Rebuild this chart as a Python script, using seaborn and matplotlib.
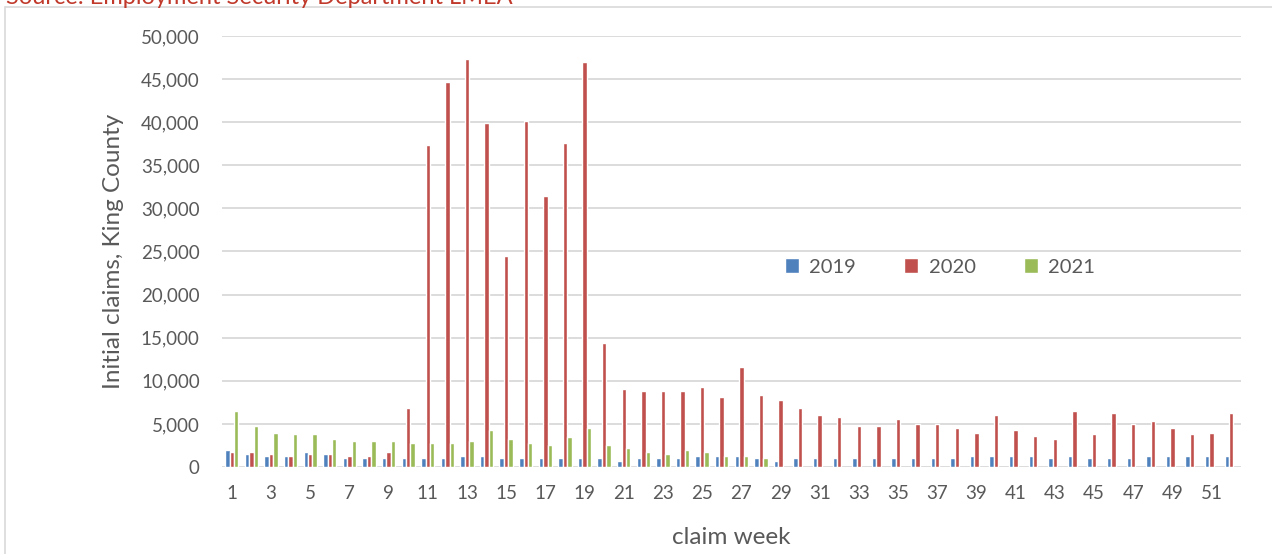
import numpy as np
import pandas as pd
import matplotlib
matplotlib.use("Agg")
import matplotlib.pyplot as plt
import seaborn as sns
from matplotlib.patches import Rectangle

weeks = list(range(1, 53))
claims_2019 = [2000, 1500, 1260, 1260, 1770, 1500, 1000, 1000, 1000, 1000,
               1000, 1000, 1260, 1260, 1000, 1000, 1000, 1000, 1000, 1000,
               750, 1000, 1000, 1000, 1260, 1260, 1260, 1000, 750, 1000,
               1000, 1000, 1000, 1000, 1000, 1000, 1000, 1000, 1260, 1260,
               1260, 1260, 1000, 1260, 1000, 1000, 1000, 1260, 1260, 1260,
               1260, 1260]
claims_2020 = [1770, 1770, 1500, 1260, 1500, 1500, 1260, 1260, 1770, 6800,
               37400, 44700, 47300, 39900, 24500, 40100, 31400, 37600, 47000, 14400,
               9060, 8800, 8800, 8800, 9300, 8070, 11570, 8300, 7800, 6800,
               6000, 5800, 4760, 4760, 5550, 5040, 5040, 4500, 4000, 6000,
               4300, 3540, 3270, 6500, 3780, 6300, 5040, 5280, 4500, 3780,
               4000, 6300]
claims_2021 = [6500, 4760, 4000, 3780, 3780, 3270, 3030, 3030, 3030, 2760,
               2760, 2760, 3030, 4250, 3270, 2760, 2500, 3500, 4500, 2500,
               2240, 1770, 1500, 2000, 1770, 1260, 1260, 1000] + [np.nan] * 24
years = ["2019", "2020", "2021"]
colors = ["#4F81BD", "#C0504D", "#9BBB59"]
ytick_vals = list(range(0, 50001, 5000))

df = pd.DataFrame({
    "week": weeks * 3,
    "claims": claims_2019 + claims_2020 + claims_2021,
    "year": [years[0]] * 52 + [years[1]] * 52 + [years[2]] * 52,
})

sns.set_theme(style="white")
plt.rcParams["font.family"] = ["Lato", "DejaVu Sans"]

fig = plt.figure(figsize=(12.72, 5.54), dpi=100)
ax = fig.add_axes([222 / 1272, 1 - 467 / 554, (1241 - 222) / 1272, (467 - 36) / 554])

sns.barplot(data=df, x="week", y="claims", hue="year", palette=colors,
            width=0.68, ax=ax, saturation=1, errorbar=None, legend=True)

ax.set_ylim(0, 50000)
ax.set_xlim(-0.5, 51.5)
ax.set_yticks(ytick_vals)
ax.set_yticklabels([f"{v:,}" for v in ytick_vals], color="#595959", fontsize=13.5)
ax.set_xticks(range(0, 52, 2))
ax.set_xticklabels([str(w) for w in weeks[::2]], color="#595959", fontsize=13.5)
ax.tick_params(axis="y", length=0, pad=16)
ax.tick_params(axis="x", length=0, pad=13)
ax.grid(axis="y", color="#D9D9D9", linewidth=1.3)
ax.set_axisbelow(True)
for s in ax.spines.values():
    s.set_visible(False)

ax.set_ylabel("Initial claims, King County", color="#595959", fontsize=17.5, labelpad=12)
ax.set_xlabel("claim week", color="#595959", fontsize=17.5, labelpad=18)

handles, labels = ax.get_legend_handles_labels()
ax.legend(handles, labels, loc="center", bbox_to_anchor=(940 / 1272, 1 - 267 / 554),
          bbox_transform=fig.transFigure, ncol=3, frameon=False, fontsize=14.5,
          handlelength=0.7, handleheight=0.7, columnspacing=2.4, handletextpad=0.5,
          labelcolor="#595959")

fig.patches.append(Rectangle((5 / 1272, -0.1), 1.2, 1 - 7 / 554 + 0.1,
                             transform=fig.transFigure, fill=False,
                             edgecolor="#D9D9D9", linewidth=1.2))
fig.text(6 / 1272, 1 - 4 / 554, "Source: Employment Security Department LMEA",
         color="#C0392B", fontsize=17, va="baseline", ha="left")

fig.savefig("out.png", dpi=100)
